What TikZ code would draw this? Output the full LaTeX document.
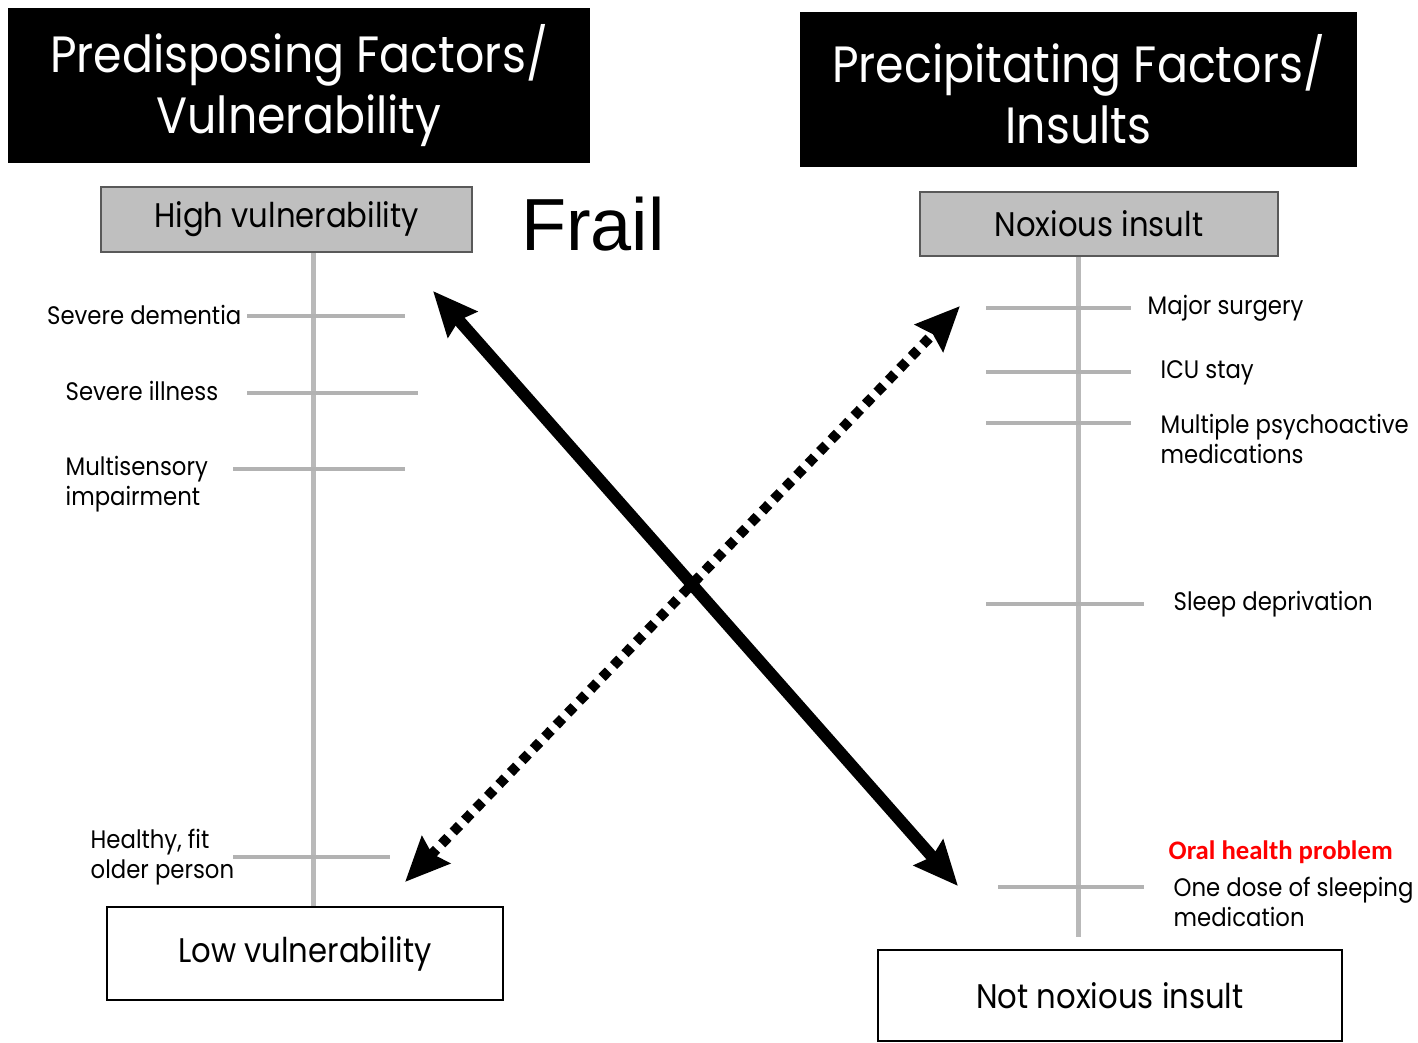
\documentclass[tikz,border=0pt]{standalone}
\usepackage{fontspec}
\setmainfont{Poppins}[FakeStretch=0.9]
\newfontfamily\frailfont{Liberation Sans}
\newfontfamily\oralfont{Carlito}
\usetikzlibrary{arrows.meta}

\tikzset{
  titlebox/.style={fill=black, text=white, inner sep=0pt, align=center,
    font=\fontsize{14.5}{17.4}\selectfont},
  gradebox/.style={fill=gray!50, draw=gray!70!black, line width=0.6pt, inner sep=0pt,
    font=\fontsize{9.7}{11}\selectfont},
  endbox/.style={draw=black, line width=0.7pt, inner sep=0pt,
    font=\fontsize{9.7}{11}\selectfont},
  factor/.style={inner sep=0pt, align=left, font=\fontsize{7.2}{8.6}\selectfont},
  scaleline/.style={gray!55, line width=0.05cm},
  tick/.style={gray!60, line width=0.04cm},
  bigarrow/.style={line width=0.12cm,
    {Stealth[length=0.44cm,width=0.38cm,inset=0.05cm]}-{Stealth[length=0.44cm,width=0.38cm,inset=0.05cm]}},
  dotarrow/.style={line width=0.10cm, dash pattern=on 0.09cm off 0.075cm,
    {Stealth[length=0.44cm,width=0.38cm,inset=0.05cm]}-{Stealth[length=0.44cm,width=0.38cm,inset=0.05cm]}}
}

\begin{document}
\begin{tikzpicture}[x=0.01cm, y=-0.01cm]
  \useasboundingbox (0,0) rectangle (1418,1042);

  % --- LEFT: PREDISPOSING FACTORS ---
  \node[titlebox, minimum width=5.82cm, minimum height=1.55cm] (pre) at (299,85.5)
    {Predisposing Factors/\\Vulnerability};
  \node[gradebox, minimum width=3.71cm, minimum height=0.65cm] (hv) at (286.5,219.5) {High vulnerability};
  \node[endbox, minimum width=3.96cm, minimum height=0.93cm] (lv) at (305,953.5) {Low vulnerability};
  \node[inner sep=0pt, font=\frailfont\fontsize{21}{24}\selectfont] (frail) at (593,224) {Frail};

  % scale
  \coordinate (lx) at (313,0);
  \draw[scaleline] (hv.south -| lx) -- (lv.north -| lx);
  \draw[tick] (247,316) -- (405,316);
  \draw[tick] (247,393) -- (418,393);
  \draw[tick] (233,469) -- (405,469);
  \draw[tick] (233,857) -- (390,857);

  \node[factor, anchor=east] (dem) at (242,315) {Severe dementia};
  \node[factor, anchor=west] (ill) at (65,391) {Severe illness};
  \node[factor, anchor=west] (sens) at (65,484) {Multisensory\\impairment};
  \node[factor, anchor=west] (fit) at (90,857) {Healthy, fit\\older person};

  % --- RIGHT: PRECIPITATING FACTORS ---
  \node[titlebox, minimum width=5.57cm, minimum height=1.55cm] (prec) at (1078.5,89.5)
    {Precipitating Factors/\\Insults};
  \node[gradebox, minimum width=3.58cm, minimum height=0.64cm] (ni) at (1099,224) {Noxious insult};
  \node[endbox, minimum width=4.64cm, minimum height=0.91cm] (nn) at (1110,995.5) {Not noxious insult};

  % scale
  \coordinate (rx) at (1078,0);
  \draw[scaleline] (ni.south -| rx) -- (1078,937);
  \draw[tick] (986,308) -- (1131,308);
  \draw[tick] (986,372) -- (1131,372);
  \draw[tick] (986,423) -- (1131,423);
  \draw[tick] (986,604) -- (1144,604);
  \draw[tick] (998,887) -- (1144,887);

  \node[factor, anchor=west] (surg) at (1147,308) {Major surgery};
  \node[factor, anchor=west] (icu) at (1160,373) {ICU stay};
  \node[factor, anchor=west] (meds) at (1160,439) {Multiple psychoactive\\medications};
  \node[factor, anchor=west] (sleep) at (1173,604) {Sleep deprivation};
  \node[inner sep=0pt, anchor=west, text=red, font=\oralfont\bfseries\fontsize{7.6}{9}\selectfont]
    (oral) at (1168,852) {Oral health problem};
  \node[factor, anchor=west] (dose) at (1173,902) {One dose of sleeping\\medication};

  % --- CROSSING ARROWS ---
  \coordinate (s1) at (433,291);
  \coordinate (s2) at (958,886);
  \coordinate (d1) at (405,882);
  \coordinate (d2) at (960,306);
  \draw[bigarrow] (s1) -- (s2);
  \draw[dotarrow] (d1) -- (d2);
\end{tikzpicture}
\end{document}
